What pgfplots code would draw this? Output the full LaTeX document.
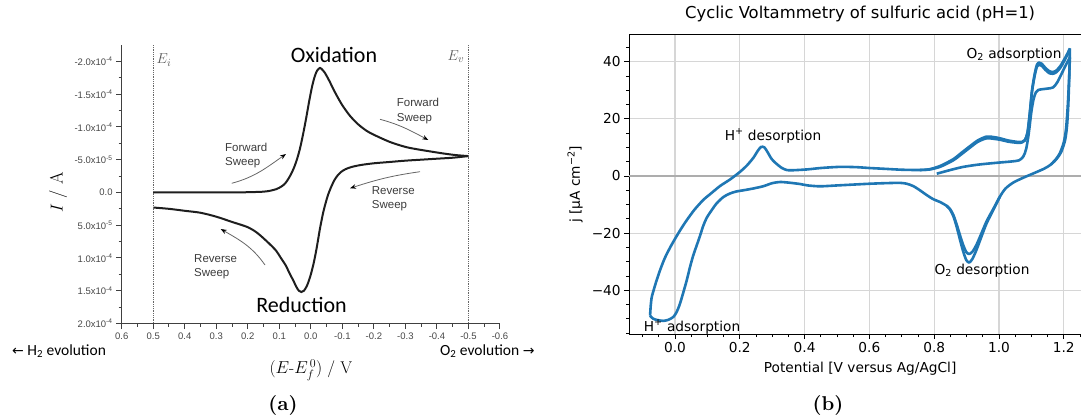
\documentclass[border=0pt]{standalone}
\usepackage{fontspec}
\usepackage{pgfplots}
\pgfplotsset{compat=1.18}
\usetikzlibrary{arrows.meta}
\newfontfamily\arialf{Liberation Sans}
\newfontfamily\calibf{Carlito}
\newfontfamily\dejavuf{DejaVu Sans}
\font\capbx=cmbx10 at 20pt
\definecolor{mplblue}{HTML}{1F77B4}
\definecolor{gridgray}{HTML}{D6D6D6}
\definecolor{zerogray}{HTML}{ADADAD}
\definecolor{inkgray}{HTML}{3C3C3C}
\definecolor{curveink}{HTML}{1E1E1E}

\begin{document}
\begin{tikzpicture}
\useasboundingbox (0pt,0pt) rectangle (1081pt,418pt);
\clip (0pt,0pt) rectangle (1081pt,418pt);

% ---------------- (a) simulated reversible CV ----------------
\begin{axis}[
  at={(121.7pt,94.5pt)}, anchor=south west, scale only axis,
  width=378.3pt, height=278.5pt,
  x dir=reverse, y dir=reverse,
  xmin=-0.6, xmax=0.6, ymin=-22.5, ymax=20,
  axis x line=bottom, axis y line=left,
  axis line style={-, line width=1.3pt, black!75},
  tick style={black!75, line width=1pt},
  tick align=outside, major tick length=5.5pt, minor tick length=3pt,
  xtick={0.6,0.5,0.4,0.3,0.2,0.1,0,-0.1,-0.2,-0.3,-0.4,-0.5,-0.6},
  xticklabels={0.6,0.5,0.4,0.3,0.2,0.1,0.0,-0.1,-0.2,-0.3,-0.4,-0.5,-0.6},
  ytick={-20,-15,-10,-5,0,5,10,15,20},
  yticklabels={{-2.0x10\textsuperscript{-4}},{-1.5x10\textsuperscript{-4}},{-1.0x10\textsuperscript{-4}},{-5.0x10\textsuperscript{-5}},{0.0},{5.0x10\textsuperscript{-5}},{1.0x10\textsuperscript{-4}},{1.5x10\textsuperscript{-4}},{2.0x10\textsuperscript{-4}}},
  minor x tick num=1, minor y tick num=1,
  ticklabel style={font=\arialf\fontsize{9.5}{11}\selectfont, text=black!72},
  xlabel={$(E$-$E_f^{\,0})$ / V},
  ylabel={$I$ / A},
  xlabel style={font=\fontsize{17}{20}\selectfont, at={(axis description cs:0.5,-0.168)}, anchor=center},
  ylabel style={font=\fontsize{18}{21}\selectfont, at={(axis description cs:-0.168,0.472)}, anchor=center},
  clip=false,
]
% forward sweep, current in units of 1e-5 A
\addplot[line width=2pt, curveink, smooth, tension=0.5] table {
E I
0.50 0.00
0.40 0.00
0.30 0.00
0.22 -0.02
0.18 -0.06
0.15 -0.12
0.13 -0.25
0.11 -0.50
0.095 -0.85
0.085 -1.2
0.075 -1.8
0.065 -2.6
0.055 -3.6
0.045 -4.9
0.035 -6.6
0.025 -8.8
0.015 -11.3
0.005 -14.0
-0.005 -16.4
-0.013 -17.8
-0.020 -18.6
-0.029 -19.0
-0.037 -18.7
-0.044 -18.3
-0.050 -17.8
-0.060 -16.9
-0.070 -15.9
-0.082 -14.8
-0.100 -13.3
-0.124 -11.7
-0.150 -10.4
-0.177 -9.4
-0.200 -8.8
-0.251 -7.7
-0.300 -6.95
-0.336 -6.6
-0.380 -6.25
-0.420 -5.95
-0.460 -5.7
-0.500 -5.55
};
% reverse sweep
\addplot[line width=2pt, curveink, smooth, tension=0.5] table {
E I
-0.500 -5.55
-0.45 -5.3
-0.40 -5.15
-0.35 -5.0
-0.30 -4.85
-0.25 -4.65
-0.20 -4.45
-0.16 -4.2
-0.13 -3.9
-0.11 -3.55
-0.095 -3.1
-0.085 -2.6
-0.075 -1.9
-0.065 -0.9
-0.055 0.3
-0.047 1.6
-0.039 3.1
-0.029 5.5
-0.018 8.6
-0.008 11.0
0.003 13.0
0.013 14.3
0.022 15.0
0.030 15.2
0.038 15.0
0.046 14.4
0.056 13.4
0.068 12.3
0.080 11.1
0.095 10.0
0.110 8.9
0.130 7.9
0.150 7.0
0.172 6.1
0.200 5.3
0.25 4.5
0.30 3.7
0.35 3.1
0.40 2.8
0.45 2.5
0.50 2.3
};
% switching potentials
\draw[densely dotted, black!60, line width=0.8pt] (axis cs:0.5,-22.5) -- (axis cs:0.5,20);
\draw[densely dotted, black!60, line width=0.8pt] (axis cs:-0.5,-22.5) -- (axis cs:-0.5,20);
\end{axis}

% sweep-direction arrows and labels
\tikzset{sweep/.style={draw=black!60, line width=0.8pt, -{Stealth[length=6pt,width=4.5pt,color=black]}}}
\draw[sweep] (231.7pt,234.7pt) to[out=15,in=-145] (286pt,264pt);
\draw[sweep] (380pt,298.7pt) to[out=-15,in=152] (428.3pt,278pt);
\draw[sweep] (420pt,246.3pt) to[out=188,in=18] (350pt,229.7pt);
\draw[sweep] (265pt,153pt) to[out=125,in=-30] (220.7pt,189pt);
\tikzset{sweeptxt/.style={anchor=west, align=left, inner sep=0pt, text=inkgray, font=\arialf\fontsize{11.5}{14.3}\selectfont}}
\node[sweeptxt] at (225pt,262.5pt) {Forward\\Sweep};
\node[sweeptxt] at (396.7pt,307pt) {Forward\\Sweep};
\node[sweeptxt] at (371.7pt,219pt) {Reverse\\Sweep};
\node[sweeptxt] at (194pt,151pt) {Reverse\\Sweep};
\node[text=black!65, font=\fontsize{15}{17}\selectfont, inner sep=0pt] at (164pt,358pt) {$E_i$};
\node[text=black!65, font=\fontsize{15}{17}\selectfont, inner sep=0pt] at (456pt,361pt) {$E_v$};
\node[anchor=base, inner sep=0pt, font=\calibf\fontsize{22}{26}\selectfont] at (334pt,355pt) {Oxidation};
\node[anchor=base, inner sep=0pt, font=\calibf\fontsize{22}{26}\selectfont] at (301.5pt,106pt) {Reduction};
\node[anchor=base west, inner sep=0pt, font=\calibf\fontsize{15.5}{18}\selectfont] at (12pt,63pt) {{\dejavuf\fontsize{14}{16}\selectfont ←} H\textsubscript{2} evolution};
\node[anchor=base west, inner sep=0pt, font=\calibf\fontsize{15.5}{18}\selectfont] at (440pt,63pt) {O\textsubscript{2} evolution {\dejavuf\fontsize{14}{16}\selectfont →}};

% ---------------- (b) Pt in sulfuric acid ----------------
\begin{axis}[
  at={(629pt,83.7pt)}, anchor=south west, scale only axis,
  width=462.3pt, height=300pt,
  xmin=-0.142, xmax=1.285, ymin=-55.4, ymax=49.6,
  axis line style={black, line width=1pt},
  tick style={black, line width=0.9pt},
  tick align=outside, tick pos=left,
  major tick length=4.8pt, minor tick length=2.7pt,
  xtick={0,0.2,0.4,0.6,0.8,1.0,1.2},
  xticklabels={0.0,0.2,0.4,0.6,0.8,1.0,1.2},
  minor xtick={-0.1,-0.05,0.05,0.1,0.15,0.25,0.3,0.35,0.45,0.5,0.55,0.65,0.7,0.75,0.85,0.9,0.95,1.05,1.1,1.15,1.25},
  ytick={-40,-20,0,20,40},
  yticklabels={−40,−20,0,20,40},
  minor ytick={-55,-50,-45,-35,-30,-25,-15,-10,-5,5,10,15,25,30,35,45},
  ticklabel style={font=\dejavuf\fontsize{13.7}{16}\selectfont},
  grid=major, major grid style={gridgray, line width=1.1pt},
  minor grid style={draw=none},
  title={Cyclic Voltammetry of sulfuric acid (pH=1)},
  title style={font=\dejavuf\fontsize{16.4}{19}\selectfont, at={(axis description cs:0.5,1.048)}, anchor=center},
  xlabel={Potential [V versus Ag/AgCl]},
  ylabel={j [µA cm\textsuperscript{−2}]},
  xlabel style={font=\dejavuf\fontsize{13.7}{16}\selectfont, at={(axis description cs:0.5,-0.1157)}, anchor=center},
  ylabel style={font=\dejavuf\fontsize{13.7}{16}\selectfont, at={(axis description cs:-0.1168,0.5)}, anchor=center},
  cvline/.style={mplblue, line width=2.6pt, line join=round, no markers, smooth, tension=0.45},
]
\draw[zerogray, line width=2pt] (axis cs:-0.142,0) -- (axis cs:1.285,0);
% first sweep, starting at open circuit
\addplot[cvline] table {
E j
0.808 0.8
0.830 1.5
0.860 2.4
0.890 3.2
0.930 3.9
0.962 4.3
1.000 4.7
1.040 5.1
1.062 5.5
1.075 6.8
1.084 9.5
1.092 15.0
1.100 22.5
1.107 27.0
1.114 29.3
1.121 30.1
1.135 30.4
1.150 30.6
1.167 31.0
1.180 32.8
1.195 36.2
1.208 39.2
1.219 41.5
};
% cathodic sweep after the first vertex
\addplot[cvline] table {
E j
1.219 41.5
1.216 33.0
1.212 24.0
1.207 16.5
1.200 11.8
1.188 8.0
1.175 5.8
1.160 4.0
};
% full anodic sweep
\addplot[cvline] table {
E j
-0.077 -48.9
-0.075 -45.5
-0.072 -42.5
-0.065 -39.6
-0.057 -36.6
-0.045 -32.6
-0.031 -28.6
-0.015 -25.0
0.000 -22.0
0.018 -18.6
0.036 -15.5
0.060 -11.8
0.087 -8.4
0.110 -6.2
0.139 -3.5
0.170 -1.2
0.200 1.4
0.222 3.7
0.242 6.4
0.256 8.9
0.266 10.2
0.276 10.0
0.286 8.3
0.298 6.0
0.312 4.4
0.330 2.8
0.345 2.1
0.360 2.0
0.407 2.3
0.450 2.8
0.509 3.2
0.560 3.1
0.600 2.8
0.650 2.5
0.700 2.2
0.756 2.1
0.787 2.4
0.820 3.6
0.859 5.9
0.885 8.2
0.910 10.4
0.935 12.5
0.962 13.8
0.985 13.6
1.003 13.2
1.030 12.4
1.060 11.9
1.072 12.0
1.080 12.6
1.088 15.2
1.095 22.0
1.102 30.0
1.110 35.6
1.117 38.9
1.124 39.7
1.132 39.3
1.142 38.0
1.155 36.7
1.167 36.4
1.178 37.0
1.190 38.6
1.202 40.9
1.212 43.0
1.219 44.7
};
% second anodic sweep where it departs from the third
\addplot[cvline] table {
E j
0.756 2.1
0.787 2.3
0.820 3.3
0.859 5.5
0.885 7.7
0.910 9.9
0.935 12.0
0.962 13.2
0.985 13.0
1.003 12.7
1.030 12.0
1.060 11.6
1.072 11.8
1.080 12.4
1.088 15.0
1.095 21.5
1.102 29.5
1.110 35.0
1.117 38.2
1.124 38.9
1.132 38.6
1.142 37.3
1.155 36.0
1.167 35.8
1.178 36.4
1.190 38.0
1.202 40.4
1.212 42.6
1.219 44.3
};
% full cathodic sweep
\addplot[cvline] table {
E j
1.219 44.7
1.217 35.0
1.214 25.0
1.210 17.5
1.204 12.5
1.192 8.4
1.178 6.0
1.160 4.0
1.140 2.6
1.106 0.9
1.075 -0.6
1.044 -2.3
1.020 -4.4
1.003 -7.2
0.985 -11.3
0.962 -16.5
0.945 -21.5
0.930 -26.0
0.918 -29.0
0.908 -30.3
0.899 -29.4
0.889 -26.2
0.879 -22.0
0.869 -17.6
0.859 -14.0
0.848 -11.6
0.838 -10.4
0.818 -9.1
0.797 -8.1
0.776 -6.6
0.756 -5.0
0.735 -3.5
0.715 -2.7
0.694 -2.4
0.650 -2.5
0.602 -2.7
0.550 -3.0
0.500 -3.3
0.448 -3.6
0.410 -3.3
0.386 -2.8
0.350 -2.3
0.324 -2.1
0.300 -2.5
0.272 -3.6
0.240 -4.4
0.211 -5.0
0.190 -5.4
0.170 -6.1
0.150 -7.3
0.129 -9.5
0.113 -12.0
0.098 -14.6
0.087 -17.5
0.077 -21.0
0.066 -24.6
0.056 -27.9
0.046 -32.0
0.036 -36.6
0.025 -41.0
0.015 -44.8
0.005 -47.6
-0.005 -49.3
-0.020 -50.3
-0.036 -50.7
-0.055 -50.4
-0.068 -49.9
-0.077 -48.9
};
% shallower O2 desorption peak of the earlier cycle
\addplot[cvline] table {
E j
1.003 -7.2
0.985 -11.0
0.962 -15.8
0.945 -20.3
0.930 -24.2
0.918 -26.5
0.908 -27.3
0.899 -26.6
0.889 -24.0
0.879 -20.5
0.869 -16.8
0.859 -13.6
0.848 -11.4
0.838 -10.4
};
\end{axis}

\tikzset{peaktxt/.style={inner sep=0pt, font=\dejavuf\fontsize{13.7}{16}\selectfont}}
\node[peaktxt] at (773pt,282pt) {H\textsuperscript{+}\ desorption};
\node[peaktxt] at (1014pt,363pt) {O\textsubscript{2} adsorption};
\node[peaktxt] at (982pt,147pt) {O\textsubscript{2} desorption};
\node[peaktxt] at (692pt,91pt) {H\textsuperscript{+}\ adsorption};

% sub-figure captions
\node[inner sep=0pt] at (283pt,13pt) {\capbx (a)};
\node[inner sep=0pt] at (828pt,13pt) {\capbx (b)};
\end{tikzpicture}
\end{document}
